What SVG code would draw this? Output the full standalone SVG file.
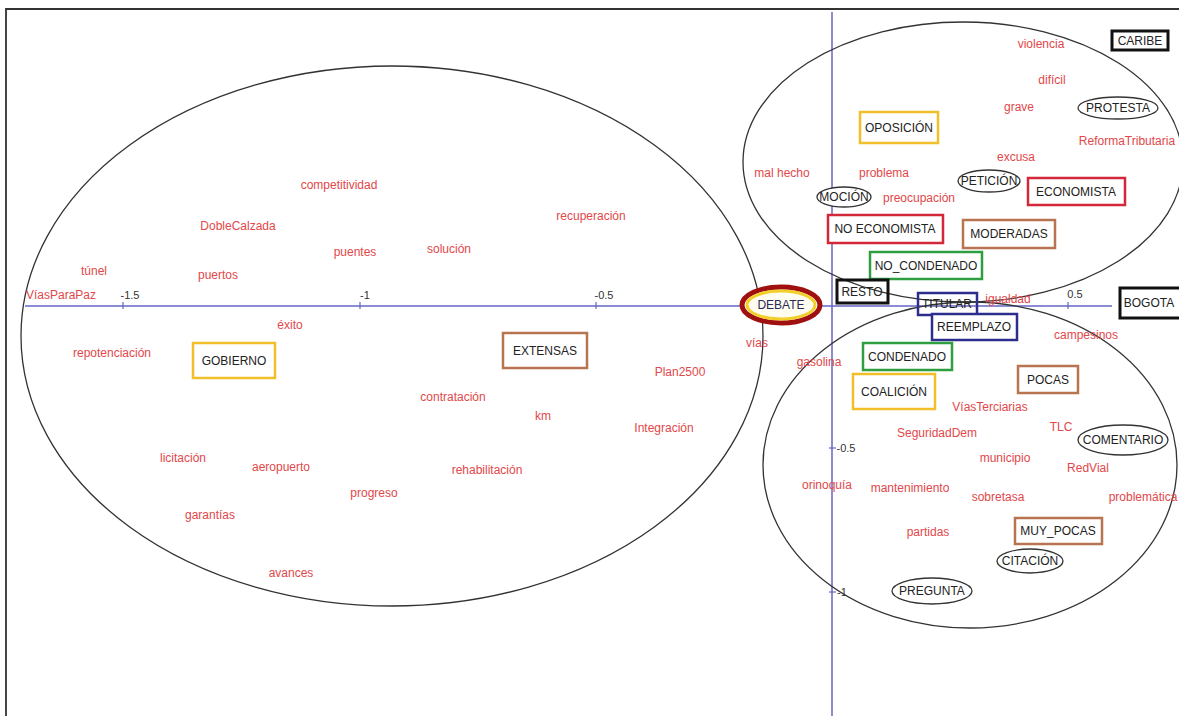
<svg xmlns="http://www.w3.org/2000/svg" width="1179" height="716" viewBox="0 0 1179 716">
<style>
  .w { font-family: "Liberation Sans", Arial, sans-serif; font-size: 12px; fill: #e2474a; text-anchor: middle; }
  .n { font-family: "Liberation Sans", Arial, sans-serif; font-size: 12px; fill: #222; text-anchor: middle; }
  .t { font-family: "Liberation Sans", Arial, sans-serif; font-size: 11px; fill: #333; text-anchor: middle; }
  .cl { fill: none; stroke: #333; stroke-width: 1.3; }
  .ax { stroke: #6666c4; stroke-width: 1.5; fill: none; }
  .tk { stroke: #6666c4; stroke-width: 1.2; }
  .bk { fill: #fff; stroke: #111; stroke-width: 3; }
  .yl { fill: #fff; stroke: #f0bf2a; stroke-width: 2.5; }
  .rd { fill: #fff; stroke: #d3283a; stroke-width: 2.5; }
  .br { fill: #fff; stroke: #b87450; stroke-width: 2.5; }
  .gr { fill: #fff; stroke: #2e9e40; stroke-width: 2.5; }
  .bl { fill: none; stroke: #2d2d8e; stroke-width: 2.5; }
  .el { fill: #fff; stroke: #333; stroke-width: 1.3; }
</style>
<rect x="0" y="0" width="1179" height="716" fill="#fff"/>
<g id="frame">
  <polyline points="6,716 6,9 1179,9" fill="none" stroke="#333" stroke-width="1.8"/>
</g>
<g id="axes">
  <line class="ax" x1="25" y1="306" x2="1112" y2="306"/>
  <line class="ax" x1="832" y1="12" x2="832" y2="716"/>
  <line class="tk" x1="123" y1="302" x2="123" y2="309"/>
  <line class="tk" x1="360" y1="302" x2="360" y2="309"/>
  <line class="tk" x1="596" y1="302" x2="596" y2="309"/>
  <line class="tk" x1="1068" y1="302" x2="1068" y2="309"/>
  <line class="tk" x1="829" y1="448" x2="836" y2="448"/>
  <line class="tk" x1="829" y1="592" x2="836" y2="592"/>
  <text class="t" x="130" y="299">-1.5</text>
  <text class="t" x="365" y="299">-1</text>
  <text class="t" x="604" y="299">-0.5</text>
  <text class="t" x="1075" y="298">0.5</text>
  <text class="t" x="846" y="452">-0.5</text>
  <text class="t" x="842" y="596">-1</text>
</g>
<g id="clusters">
  <ellipse class="cl" cx="392" cy="336" rx="371" ry="270"/>
  <ellipse class="cl" cx="963" cy="162" rx="220" ry="140"/>
  <ellipse class="cl" cx="970" cy="465" rx="207" ry="163"/>
</g>
<g id="words">
  <text class="w" x="1041" y="48">violencia</text>
  <text class="w" x="1052" y="84">difícil</text>
  <text class="w" x="1019" y="111">grave</text>
  <text class="w" x="1127" y="145">ReformaTributaria</text>
  <text class="w" x="1016" y="161">excusa</text>
  <text class="w" x="782" y="177">mal hecho</text>
  <text class="w" x="884" y="177">problema</text>
  <text class="w" x="919" y="202">preocupación</text>
  <text class="w" x="1008" y="303">igualdad</text>
  <text class="w" x="757" y="347">vías</text>
  <text class="w" x="1086" y="339">campesinos</text>
  <text class="w" x="819" y="366">gasolina</text>
  <text class="w" x="990" y="411">VíasTerciarias</text>
  <text class="w" x="1061" y="431">TLC</text>
  <text class="w" x="937" y="437">SeguridadDem</text>
  <text class="w" x="1005" y="462">municipio</text>
  <text class="w" x="1088" y="472">RedVial</text>
  <text class="w" x="827" y="489">orinoquía</text>
  <text class="w" x="910" y="492">mantenimiento</text>
  <text class="w" x="998" y="501">sobretasa</text>
  <text class="w" x="1143" y="501">problemática</text>
  <text class="w" x="928" y="536">partidas</text>
  <text class="w" x="339" y="189">competitividad</text>
  <text class="w" x="238" y="230">DobleCalzada</text>
  <text class="w" x="355" y="256">puentes</text>
  <text class="w" x="94" y="275">túnel</text>
  <text class="w" x="218" y="279">puertos</text>
  <text class="w" x="61" y="299">VíasParaPaz</text>
  <text class="w" x="290" y="329">éxito</text>
  <text class="w" x="449" y="253">solución</text>
  <text class="w" x="591" y="220">recuperación</text>
  <text class="w" x="112" y="357">repotenciación</text>
  <text class="w" x="183" y="462">licitación</text>
  <text class="w" x="281" y="471">aeropuerto</text>
  <text class="w" x="374" y="497">progreso</text>
  <text class="w" x="210" y="519">garantías</text>
  <text class="w" x="291" y="577">avances</text>
  <text class="w" x="680" y="376">Plan2500</text>
  <text class="w" x="453" y="401">contratación</text>
  <text class="w" x="543" y="420">km</text>
  <text class="w" x="664" y="432">Integración</text>
  <text class="w" x="487" y="474">rehabilitación</text>
</g>
<g id="node-caribe"><rect class="bk" x="1112" y="31" width="56" height="19"/><text class="n" x="1140" y="45">CARIBE</text></g>
<g id="node-oposicion"><rect class="yl" x="860" y="112" width="78" height="31"/><text class="n" x="899" y="132">OPOSICIÓN</text></g>
<g id="node-economista"><rect class="rd" x="1028" y="178" width="97" height="27"/><text class="n" x="1076" y="196">ECONOMISTA</text></g>
<g id="node-no-economista"><rect class="rd" x="828" y="215" width="115" height="28"/><text class="n" x="885" y="233">NO ECONOMISTA</text></g>
<g id="node-moderadas"><rect class="br" x="963" y="220" width="92" height="28"/><text class="n" x="1009" y="238">MODERADAS</text></g>
<g id="node-no-condenado"><rect class="gr" x="870" y="252" width="112" height="27"/><text class="n" x="926" y="270">NO_CONDENADO</text></g>
<g id="node-resto"><rect class="bk" x="837" y="280" width="51" height="23" fill="none" style="fill:none"/><text class="n" x="862" y="296">RESTO</text></g>
<g id="node-titular"><rect class="bl" x="918" y="293" width="59" height="22"/><text class="n" x="947" y="308">TITULAR</text></g>
<g id="node-reemplazo"><rect class="bl" x="932" y="314" width="85" height="26" style="fill:#fff"/><text class="n" x="974" y="331">REEMPLAZO</text></g>
<g id="node-bogota"><rect class="bk" x="1120" y="288" width="62" height="30"/><text class="n" x="1149" y="307">BOGOTA</text></g>
<g id="node-condenado"><rect class="gr" x="863" y="343" width="89" height="27"/><text class="n" x="907" y="361">CONDENADO</text></g>
<g id="node-coalicion"><rect class="yl" x="853" y="374" width="82" height="35"/><text class="n" x="894" y="396">COALICIÓN</text></g>
<g id="node-pocas"><rect class="br" x="1018" y="366" width="60" height="27"/><text class="n" x="1048" y="384">POCAS</text></g>
<g id="node-muy-pocas"><rect class="br" x="1015" y="518" width="87" height="26"/><text class="n" x="1058" y="535">MUY_POCAS</text></g>
<g id="node-gobierno"><rect class="yl" x="193" y="343" width="82" height="35"/><text class="n" x="234" y="365">GOBIERNO</text></g>
<g id="node-extensas"><rect class="br" x="503" y="333" width="84" height="35"/><text class="n" x="545" y="355">EXTENSAS</text></g>
<g id="node-protesta"><ellipse class="el" cx="1118" cy="108" rx="40" ry="11"/><text class="n" x="1118" y="112">PROTESTA</text></g>
<g id="node-peticion"><ellipse class="el" cx="989" cy="181" rx="31" ry="11"/><text class="n" x="989" y="185">PETICIÓN</text></g>
<g id="node-mocion"><ellipse class="el" cx="844" cy="197" rx="27" ry="10"/><text class="n" x="844" y="201">MOCIÓN</text></g>
<g id="node-comentario"><ellipse class="el" cx="1123" cy="440" rx="45" ry="15"/><text class="n" x="1123" y="444">COMENTARIO</text></g>
<g id="node-citacion"><ellipse class="el" cx="1030" cy="561" rx="33" ry="12"/><text class="n" x="1030" y="565">CITACIÓN</text></g>
<g id="node-pregunta"><ellipse class="el" cx="932" cy="591" rx="40" ry="13"/><text class="n" x="932" y="595">PREGUNTA</text></g>
<g id="node-debate">
  <ellipse cx="781" cy="305" rx="39" ry="18" fill="#fffdf0" stroke="#a01010" stroke-width="5"/>
  <ellipse cx="781" cy="305" rx="34" ry="14" fill="none" stroke="#f2cf2a" stroke-width="3"/>
  <text class="n" x="781" y="309" style="fill:#2a2a5a">DEBATE</text>
</g>
</svg>
